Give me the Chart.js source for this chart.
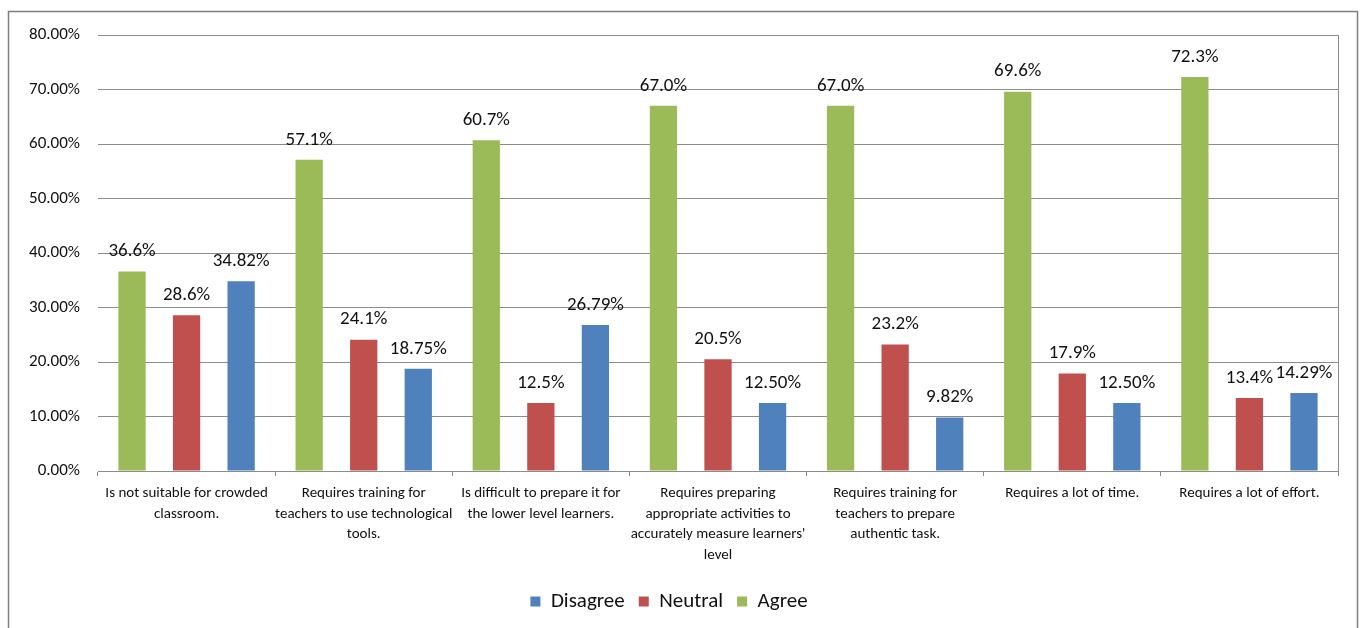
<!DOCTYPE html>
<html>
<head>
<meta charset="utf-8">
<script src="https://cdn.jsdelivr.net/npm/chart.js@4"></script>
<style>
  html, body { margin: 0; padding: 0; background: #fff; }
  #wrap { width: 1364px; height: 628px; }
</style>
</head>
<body>
<div id="wrap"><canvas id="surveyChart" width="1364" height="628"></canvas></div>
<script>
const categories = [
    ['Is not suitable for crowded', 'classroom.'],
    ['Requires training for', 'teachers to use technological', 'tools.'],
    ['Is difficult to prepare it for', 'the lower level learners.'],
    ['Requires preparing', 'appropriate activities to', "accurately measure learners'", 'level'],
    ['Requires training for', 'teachers to prepare', 'authentic task.'],
    ['Requires a lot of time.'],
    ['Requires a lot of effort.']
];
const agree = [36.6, 57.1, 60.7, 67.0, 67.0, 69.6, 72.3];
const neutral = [28.6, 24.1, 12.5, 20.5, 23.2, 17.9, 13.4];
const disagree = [34.82, 18.75, 26.79, 12.50, 9.82, 12.50, 14.29];
const yTicks = [0, 10, 20, 30, 40, 50, 60, 70, 80];

const FONT = "Carlito, 'Liberation Sans', Arial, sans-serif";
const TEXT = '#111';
const GRID = '#8c8c8c';

// value labels above each bar
const barLabels = {
    id: 'barLabels',
    afterDatasetsDraw(chart) {
        const ctx = chart.ctx;
        ctx.save();
        ctx.font = '19px ' + FONT;
        ctx.fillStyle = TEXT;
        ctx.textAlign = 'center';
        ctx.textBaseline = 'middle';
        chart.data.datasets.forEach((ds, i) => {
            const meta = chart.getDatasetMeta(i);
            if (meta.hidden) return;
            meta.data.forEach((bar, j) => {
                ctx.fillText(ds.data[j].toFixed(ds.decimals) + '%', bar.x, bar.y - 20);
            });
        });
        ctx.restore();
    }
};

// outer frame + right edge of plot area
const frame = {
    id: 'frame',
    afterDraw(chart) {
        const ctx = chart.ctx;
        const a = chart.chartArea;
        ctx.save();
        ctx.strokeStyle = GRID;
        ctx.lineWidth = 1;
        ctx.beginPath();
        ctx.moveTo(Math.round(a.right) + 0.5, a.top);
        ctx.lineTo(Math.round(a.right) + 0.5, a.bottom + 5);
        ctx.stroke();
        ctx.strokeStyle = '#7f7f7f';
        ctx.lineWidth = 1.5;
        ctx.strokeRect(8.5, 11.5, 1349, 640);
        ctx.restore();
    }
};

new Chart(document.getElementById('surveyChart'), {
    type: 'bar',
    data: {
        labels: categories,
        datasets: [
            { label: 'Agree', data: agree, backgroundColor: '#9BBB59', decimals: 1 },
            { label: 'Neutral', data: neutral, backgroundColor: '#C0504D', decimals: 1 },
            { label: 'Disagree', data: disagree, backgroundColor: '#4F81BD', decimals: 2 }
        ]
    },
    options: {
        responsive: false,
        animation: false,
        devicePixelRatio: 1,
        categoryPercentage: 0.924,
        barPercentage: 0.5,
        layout: { padding: { top: 35, right: 26, bottom: 6, left: 0 } },
        plugins: {
            tooltip: { enabled: false },
            legend: {
                position: 'bottom',
                reverse: true,
                labels: {
                    font: { family: FONT, size: 21 },
                    color: TEXT,
                    boxWidth: 10,
                    boxHeight: 10,
                    padding: 14
                }
            }
        },
        scales: {
            x: {
                grid: { drawOnChartArea: false, drawTicks: true, tickLength: 5, color: GRID, offset: true },
                border: { color: GRID, width: 1 },
                ticks: {
                    color: TEXT,
                    font: { family: FONT, size: 15, lineHeight: 1.37 },
                    maxRotation: 0,
                    autoSkip: false,
                    padding: 7
                },
                afterFit(scale) { scale.height = 106; }
            },
            y: {
                min: 0,
                max: 80,
                afterBuildTicks(scale) { scale.ticks = yTicks.map(v => ({ value: v })); },
                grid: { color: GRID, drawTicks: false },
                border: { display: false },
                ticks: {
                    color: TEXT,
                    font: { family: FONT, size: 17 },
                    padding: 18,
                    callback: v => v.toFixed(2) + '%'
                },
                afterFit(scale) { scale.width = 98; }
            }
        }
    },
    plugins: [barLabels, frame]
});
</script>
</body>
</html>
